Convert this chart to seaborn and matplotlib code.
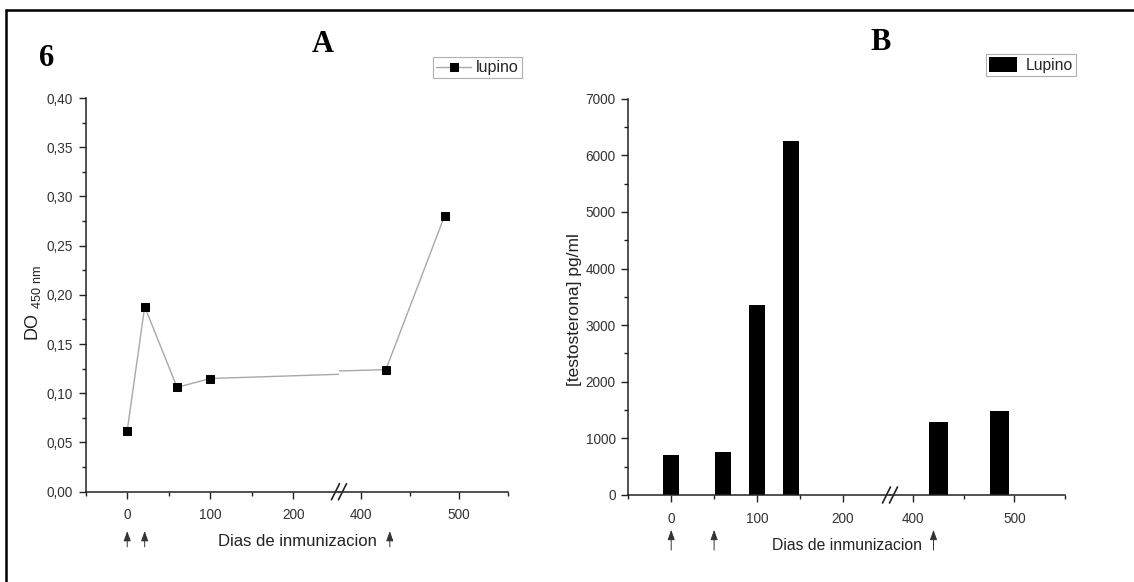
import numpy as np
import pandas as pd
import matplotlib.pyplot as plt
import seaborn as sns
from matplotlib.lines import Line2D
from matplotlib.ticker import FixedLocator, FuncFormatter

# panel A: DO 450 nm
days_a = [0, 21, 60, 100, 425, 485]
do_450 = [0.062, 0.188, 0.106, 0.115, 0.124, 0.280]
arrows_a = [0, 21, 429]

# panel B: testosterona
days_b = [0, 60, 100, 140, 425, 485]
testosterona = [700, 760, 3360, 6250, 1290, 1490]
arrows_b = [0, 50, 420]

xticks_left = [0, 100, 200]
xminor_left = [-50, 50, 150]
xticks_right = [400, 500]
xminor_right = [450, 550]
yticks_a = [0.00, 0.05, 0.10, 0.15, 0.20, 0.25, 0.30, 0.35, 0.40]
yticks_b = [0, 1000, 2000, 3000, 4000, 5000, 6000, 7000]

df_a = pd.DataFrame({"dias": days_a, "do": do_450})
df_b = pd.DataFrame({"dias": days_b, "testo": testosterona})

sns.set_theme(style="ticks")
plt.rcParams["font.family"] = ["Liberation Sans", "DejaVu Sans"]
plt.rcParams["mathtext.fontset"] = "custom"
plt.rcParams["mathtext.rm"] = "Liberation Sans"

W, H = 1134, 582
fig = plt.figure(figsize=(W / 100, H / 100), dpi=100)


def fx(px):
    return px / W


def fy(py):
    return 1 - py / H


def rect(x0, x1, ytop, ybot):
    return [fx(x0), fy(ybot), (x1 - x0) / W, (ybot - ytop) / H]


def style_axis(ax, left_side):
    sns.despine(ax=ax, left=not left_side)
    for s in ["bottom", "left"]:
        ax.spines[s].set_color("#222")
        ax.spines[s].set_linewidth(1.1)
    ax.tick_params(axis="both", which="major", direction="out", length=5,
                   width=1, color="#222", labelcolor="#333", labelsize=9.8, pad=4)
    ax.tick_params(axis="x", which="major", pad=7)
    ax.tick_params(axis="both", which="minor", direction="out", length=3,
                   width=1, color="#222")
    ax.set_xlabel("")
    ax.set_ylabel("")
    ax.set_facecolor("none")
    if not left_side:
        ax.tick_params(axis="y", which="both", left=False, labelleft=False)


# ---- panel A ----
axA1 = fig.add_axes(rect(85.7, 339, 98, 491.7))
axA2 = fig.add_axes(rect(339, 508, 98, 491.7))
for ax, xl, maj, mnr in [(axA1, (-50, 255), xticks_left, xminor_left),
                         (axA2, (377, 550), xticks_right, xminor_right)]:
    sns.lineplot(data=df_a, x="dias", y="do", ax=ax, color="#a8a8a8", lw=1,
                 marker="s", markersize=6, markerfacecolor="black",
                 markeredgecolor="black", label="lupino")
    ax.get_legend().remove()
    ax.set_xlim(*xl)
    ax.set_ylim(0, 0.40)
    ax.set_xticks(maj)
    ax.xaxis.set_minor_locator(FixedLocator(mnr))
    ax.set_yticks(yticks_a)
    ax.yaxis.set_minor_locator(FixedLocator(np.arange(0.025, 0.40, 0.05)))
    ax.yaxis.set_major_formatter(FuncFormatter(lambda v, p: f"{v:.2f}".replace(".", ",")))
    style_axis(ax, ax is axA1)

# ---- panel B ----
axB1 = fig.add_axes(rect(628.3, 890, 98.7, 495))
axB2 = fig.add_axes(rect(890, 1065, 98.7, 495))
for ax, xl, maj, mnr in [(axB1, (-50, 255), xticks_left, xminor_left),
                         (axB2, (377, 550), xticks_right, xminor_right)]:
    sns.barplot(data=df_b, x="dias", y="testo", native_scale=True, color="black",
                saturation=1, width=0.475, linewidth=0, ax=ax, label="Lupino")
    if ax.get_legend() is not None:
        ax.get_legend().remove()
    ax.set_xlim(*xl)
    ax.set_ylim(0, 7000)
    ax.set_xticks(maj)
    ax.xaxis.set_minor_locator(FixedLocator(mnr))
    ax.set_yticks(yticks_b)
    ax.yaxis.set_minor_locator(FixedLocator(np.arange(500, 7000, 1000)))
    style_axis(ax, ax is axB1)

# arrows under the x axis (immunization days)
for ax_l, ax_r, pos, y0, y1 in [(axA1, axA2, arrows_a, -0.14, -0.10),
                                (axB1, axB2, arrows_b, -0.139, -0.088)]:
    for d in pos:
        ax = ax_l if d < 300 else ax_r
        ax.annotate("", xy=(d, y1), xytext=(d, y0), xycoords=ax.get_xaxis_transform(),
                    arrowprops=dict(arrowstyle="-|>,head_length=0.5,head_width=0.18",
                                    color="#333", lw=0.7, shrinkA=0, shrinkB=0))


# axis break marks
def draw_break(xc, yc):
    for dx in (-3.5, 3.5):
        fig.add_artist(Line2D([fx(xc + dx - 4), fx(xc + dx + 4)],
                              [fy(yc + 8), fy(yc - 8)], color="#222", lw=1.2))


draw_break(339, 491.7)
draw_break(890, 495)

# axis labels
fig.text(fx(297), fy(541.7), "Dias de inmunizacion", ha="center", va="center",
         fontsize=12, color="#222")
fig.text(fx(846.6), fy(545.7), "Dias de inmunizacion", ha="center", va="center",
         fontsize=11.3, color="#222")
fig.text(fx(33), fy(303), r"DO $_{\mathregular{450\ nm}}$", rotation=90,
         ha="center", va="center", fontsize=13, color="#222")
fig.text(fx(574), fy(310), "[testosterona] pg/ml", rotation=90,
         ha="center", va="center", fontsize=12.5, color="#222")

# panel letters
for txt, x, y in [("6", 46.7, 59), ("A", 323, 44), ("B", 880.7, 43)]:
    fig.text(fx(x), fy(y), txt, ha="center", va="center", fontsize=22,
             fontweight="bold", family="Liberation Serif", color="black")

# legends
h, l = axA1.get_legend_handles_labels()
legA = fig.legend(h[:1], l[:1], loc="upper left", bbox_to_anchor=(fx(433), fy(57)),
                  frameon=True, fancybox=False, edgecolor="#b0b0b0", framealpha=1,
                  fontsize=11.5, handlelength=2.2, borderpad=0.2, borderaxespad=0,
                  handletextpad=0.3)
legA.get_frame().set_linewidth(0.8)
h, l = axB1.get_legend_handles_labels()
legB = fig.legend(h[:1], l[:1], loc="upper left", bbox_to_anchor=(fx(986), fy(54)),
                  frameon=True, fancybox=False, edgecolor="#b0b0b0", framealpha=1,
                  fontsize=11.3, handlelength=1.75, handleheight=1.1, borderpad=0.2,
                  borderaxespad=0, handletextpad=0.6)
legB.get_frame().set_linewidth(0.8)

# outer frame (top and left edges)
fig.add_artist(Line2D([fx(6), 1], [fy(10), fy(10)], color="black", lw=1.8))
fig.add_artist(Line2D([fx(6), fx(6)], [fy(10), 0], color="black", lw=1.8))

fig.savefig("out.png", dpi=100)
